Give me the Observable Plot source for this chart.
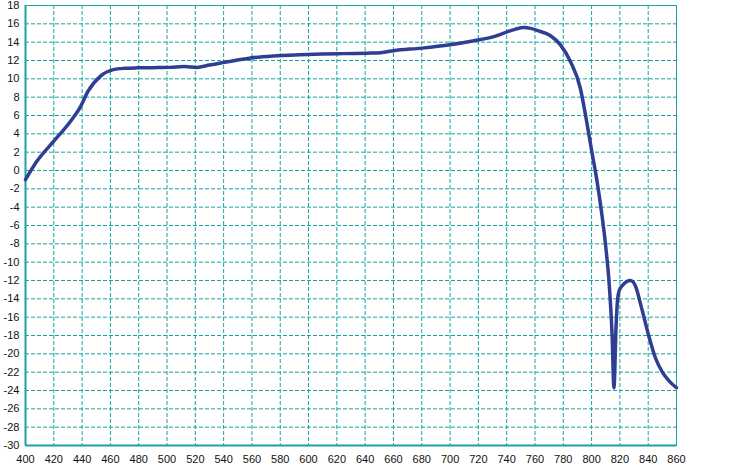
<!DOCTYPE html>
<html>
<head>
<meta charset="utf-8">
<script src="https://cdn.jsdelivr.net/npm/d3@7"></script>
<script src="https://cdn.jsdelivr.net/npm/@observablehq/plot@0.6"></script>
<style>
  html, body { margin: 0; padding: 0; background: #fff; }
  #chart svg { display: block; overflow: visible; }
</style>
</head>
<body>
<div id="chart"></div>
<script>
const xValues = [400,408,420,432,439,444,453,462,470,479,490,502,512,521,530,538,548,559,575,594,610,625,641,651,660,680,700,717,731,740,746,752,757,762,771,778,785,792,796,800,804,807,810,812.5,814.5,815.8,817.3,818.3,819.5,822,827.5,831,835,840,845,850,855,860];
const yValues = [-1,1,3.2,5.4,7,8.6,10.3,11,11.15,11.2,11.22,11.25,11.35,11.25,11.5,11.72,12.0,12.27,12.5,12.63,12.7,12.75,12.8,12.85,13.07,13.35,13.72,14.16,14.6,15.1,15.4,15.6,15.5,15.25,14.7,13.7,11.9,9,5.8,2.2,-1.3,-4.5,-8.3,-12.5,-18,-23.7,-17,-14.2,-13.1,-12.5,-12,-12.6,-14.8,-17.8,-20.4,-22,-23,-23.7];
const xTicks = d3.range(400, 861, 20);
const yTicks = d3.range(-30, 19, 2);

const data = xValues.map((x, i) => ({x, y: yValues[i]}));
const teal = "#19a3a3";

const chart = Plot.plot({
  width: 733,
  height: 465,
  marginLeft: 25,
  marginRight: 57,
  marginTop: 5,
  marginBottom: 20,
  style: {fontFamily: "Liberation Sans, Arial, sans-serif", fontSize: "11px", color: "#111", background: "#fff"},
  x: {domain: [400, 860], ticks: xTicks, tickSize: 0, tickPadding: 10, tickFormat: d => d, label: null},
  y: {domain: [-30, 18], ticks: yTicks, tickSize: 0, tickPadding: 6, tickFormat: d => d, label: null},
  marks: [
    Plot.gridX(xTicks, {stroke: teal, strokeOpacity: 1, strokeDasharray: "4,2", strokeWidth: 1}),
    Plot.gridY(yTicks, {stroke: teal, strokeOpacity: 1, strokeDasharray: "4,2", strokeWidth: 1}),
    Plot.frame({stroke: teal, strokeWidth: 1}),
    Plot.ruleX([400], {stroke: teal, strokeWidth: 2}),
    Plot.ruleY([-30], {stroke: teal, strokeWidth: 2}),
    Plot.line(data, {x: "x", y: "y", stroke: "#2f3e92", strokeWidth: 3.5, curve: "monotone-x"})
  ]
});
document.getElementById("chart").append(chart);
</script>
</body>
</html>
